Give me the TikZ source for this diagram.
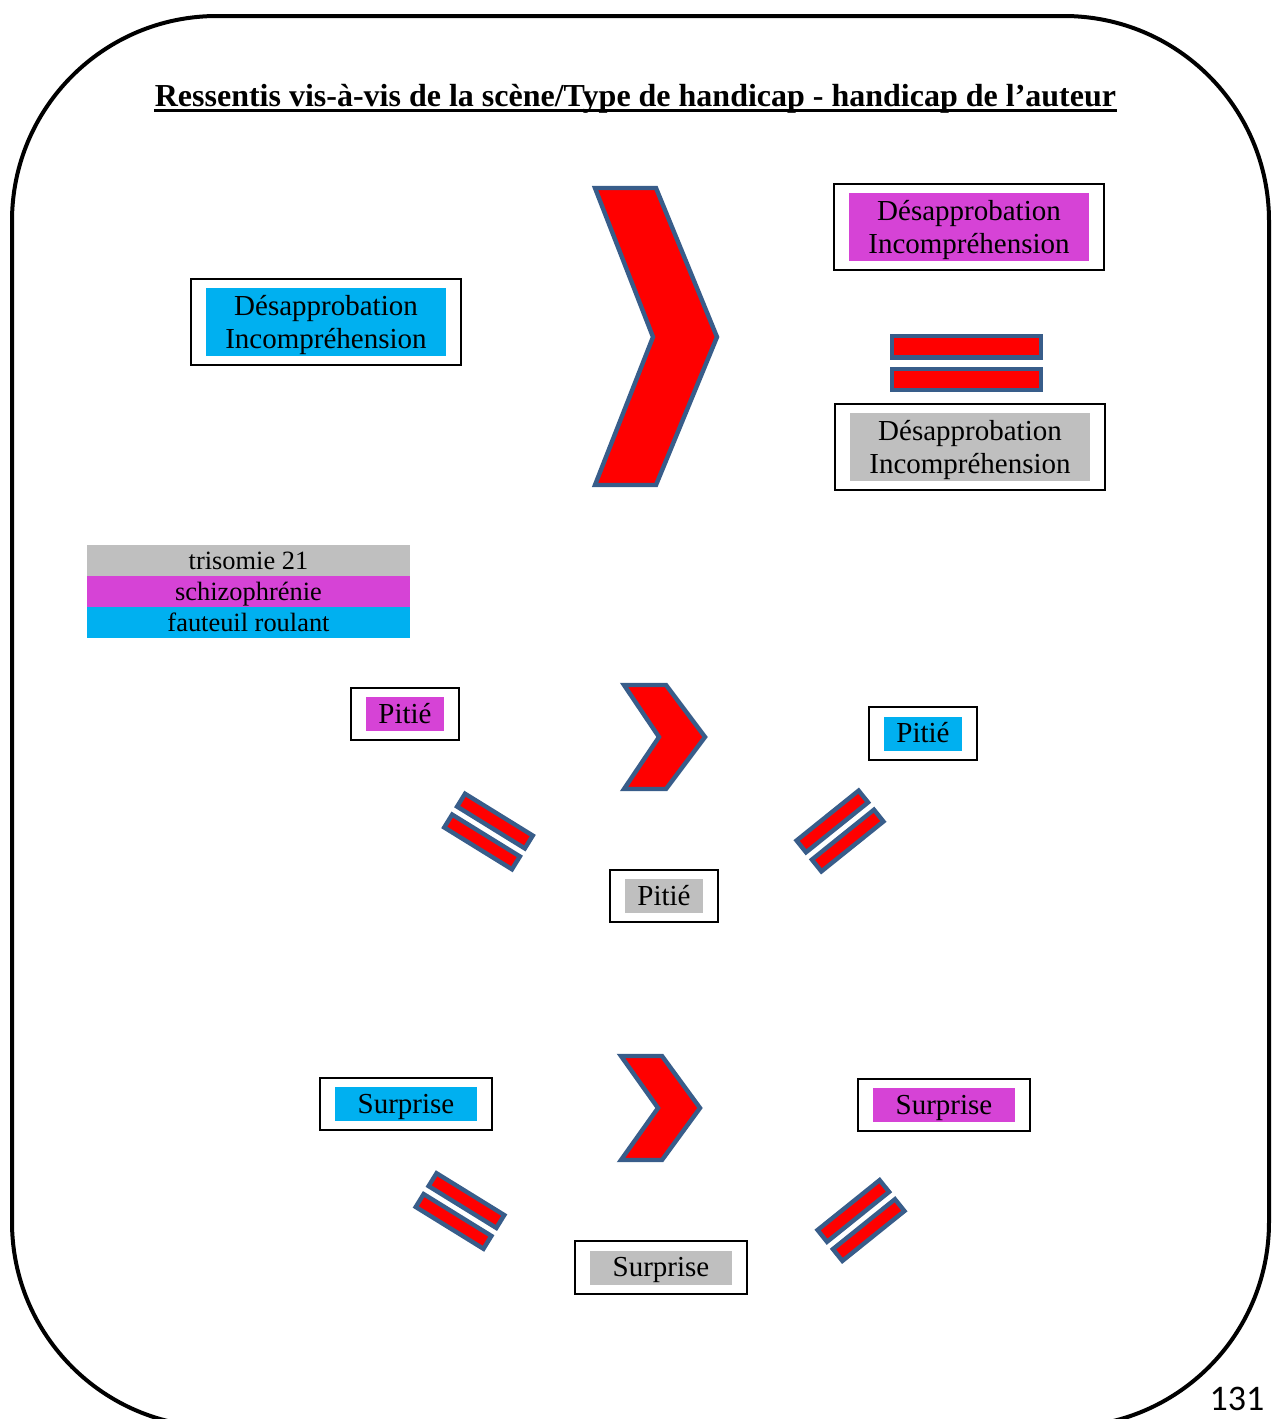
\documentclass[tikz,border=0pt]{standalone}
\usepackage{fontspec}
\setmainfont{Liberation Serif}
\newfontfamily\pagefont{Carlito}
\usepackage{tikz}
\usetikzlibrary{fit}

\definecolor{rouge}{RGB}{255,0,0}
\definecolor{bordure}{RGB}{56,93,138}
\definecolor{gris}{RGB}{191,191,191}
\definecolor{violet}{RGB}{214,67,214}
\definecolor{bleu}{RGB}{0,176,240}

\tikzset{
  fond/.style={inner sep=0pt, align=center, font=\fontsize{14.5}{16.7}\selectfont},
  ligne/.style={fond, text height=10.5pt, text depth=1.5pt},
  deuxlignes/.style={fond, text height=26.9pt, text depth=0.5pt, minimum width=120pt, minimum height=34pt},
  cadre/.style={draw, line width=1pt, inner xsep=7.5pt, inner ysep=4.5pt},
  fleche/.style={draw=bordure, fill=rouge, line width=2.2pt},
  barre/.style={draw=bordure, fill=rouge, line width=2.2pt},
  legende/.style={inner sep=0pt, minimum width=161.5pt, minimum height=15.5pt,
    text height=11pt, text depth=2pt, font=\fontsize{13.2}{15}\selectfont}
}

\newcommand{\egal}[5]{%
  \begin{scope}[shift={(#1)}, rotate=#2]
    \draw[barre] (-#3,-#4) rectangle (#3,-#5);
    \draw[barre] (-#3,#4) rectangle (#3,#5);
  \end{scope}}

\begin{document}
\begin{tikzpicture}[x=0.5pt, y=-0.5pt]
    \useasboundingbox (0,0) rectangle (1274,1419);
    \clip (0,0) rectangle (1274,1419);
    \draw[line width=2pt, rounded corners=102.5pt] (12,16) rectangle (1269,1427);

    \node[anchor=base, inner sep=0pt, font=\fontsize{16}{19}\selectfont\bfseries] (titre) at (635.5,106)
        {Ressentis vis-à-vis de la scène/Type de handicap - handicap de l’auteur};
    \draw[line width=1.4pt] ([yshift=-2.3pt]titre.base west) -- ([yshift=-2.3pt]titre.base east);

    \node[deuxlignes, fill=bleu] (desBleu) at (326,322) {Désapprobation\\Incompréhension};
    \node[cadre, fit=(desBleu)] (cadreDesBleu) {};
    \node[deuxlignes, fill=violet] (desViolet) at (969,227) {Désapprobation\\Incompréhension};
    \node[cadre, fit=(desViolet)] (cadreDesViolet) {};
    \node[deuxlignes, fill=gris] (desGris) at (970,447) {Désapprobation\\Incompréhension};
    \node[cadre, fit=(desGris)] (cadreDesGris) {};

    \draw[fleche] (595,188) -- (656,188) -- (717,337) -- (656,485) -- (595,485) -- (653,337) -- cycle;
    \egal{966.5,363}{0}{74.3}{5.7}{26.8}

    \node[legende, fill=gris] (legGris) at (248.5,560.5) {trisomie 21};
    \node[legende, fill=violet] (legViolet) at (248.5,591.5) {schizophrénie};
    \node[legende, fill=bleu] (legBleu) at (248.5,622.5) {fauteuil roulant};

    \node[ligne, fill=violet, minimum width=39pt, minimum height=17pt] (pitViolet) at (405,714) {Pitié};
    \node[cadre, fit=(pitViolet)] (cadrePitViolet) {};
    \node[ligne, fill=bleu, minimum width=39pt, minimum height=17pt] (pitBleu) at (923,733.5) {Pitié};
    \node[cadre, fit=(pitBleu)] (cadrePitBleu) {};
    \node[ligne, fill=gris, minimum width=39pt, minimum height=17pt] (pitGris) at (664,896) {Pitié};
    \node[cadre, fit=(pitGris)] (cadrePitGris) {};

    \draw[fleche] (624,685) -- (666,685) -- (705,737) -- (666,789) -- (624,789) -- (659,737) -- cycle;
    \egal{488.5,831.5}{-31.7}{39.8}{4.7}{19.8}
    \egal{840,831}{38.8}{39.8}{4.7}{19.8}

    \node[ligne, fill=bleu, minimum width=71pt, minimum height=17pt] (surBleu) at (406,1104) {Surprise};
    \node[cadre, fit=(surBleu)] (cadreSurBleu) {};
    \node[ligne, fill=violet, minimum width=71pt, minimum height=17pt] (surViolet) at (944,1105) {Surprise};
    \node[cadre, fit=(surViolet)] (cadreSurViolet) {};
    \node[ligne, fill=gris, minimum width=71pt, minimum height=17pt] (surGris) at (661,1267.5) {Surprise};
    \node[cadre, fit=(surGris)] (cadreSurGris) {};

    \draw[fleche] (621,1056) -- (662,1056) -- (700,1108) -- (662,1160) -- (621,1160) -- (658,1108) -- cycle;
    \egal{460,1211}{-31.7}{39.8}{4.7}{19.8}
    \egal{861,1220.5}{38.8}{39.8}{4.7}{19.8}

    \node[anchor=base, font=\pagefont\fontsize{18}{21}\selectfont] (page) at (1237,1410) {131};
\end{tikzpicture}
\end{document}
